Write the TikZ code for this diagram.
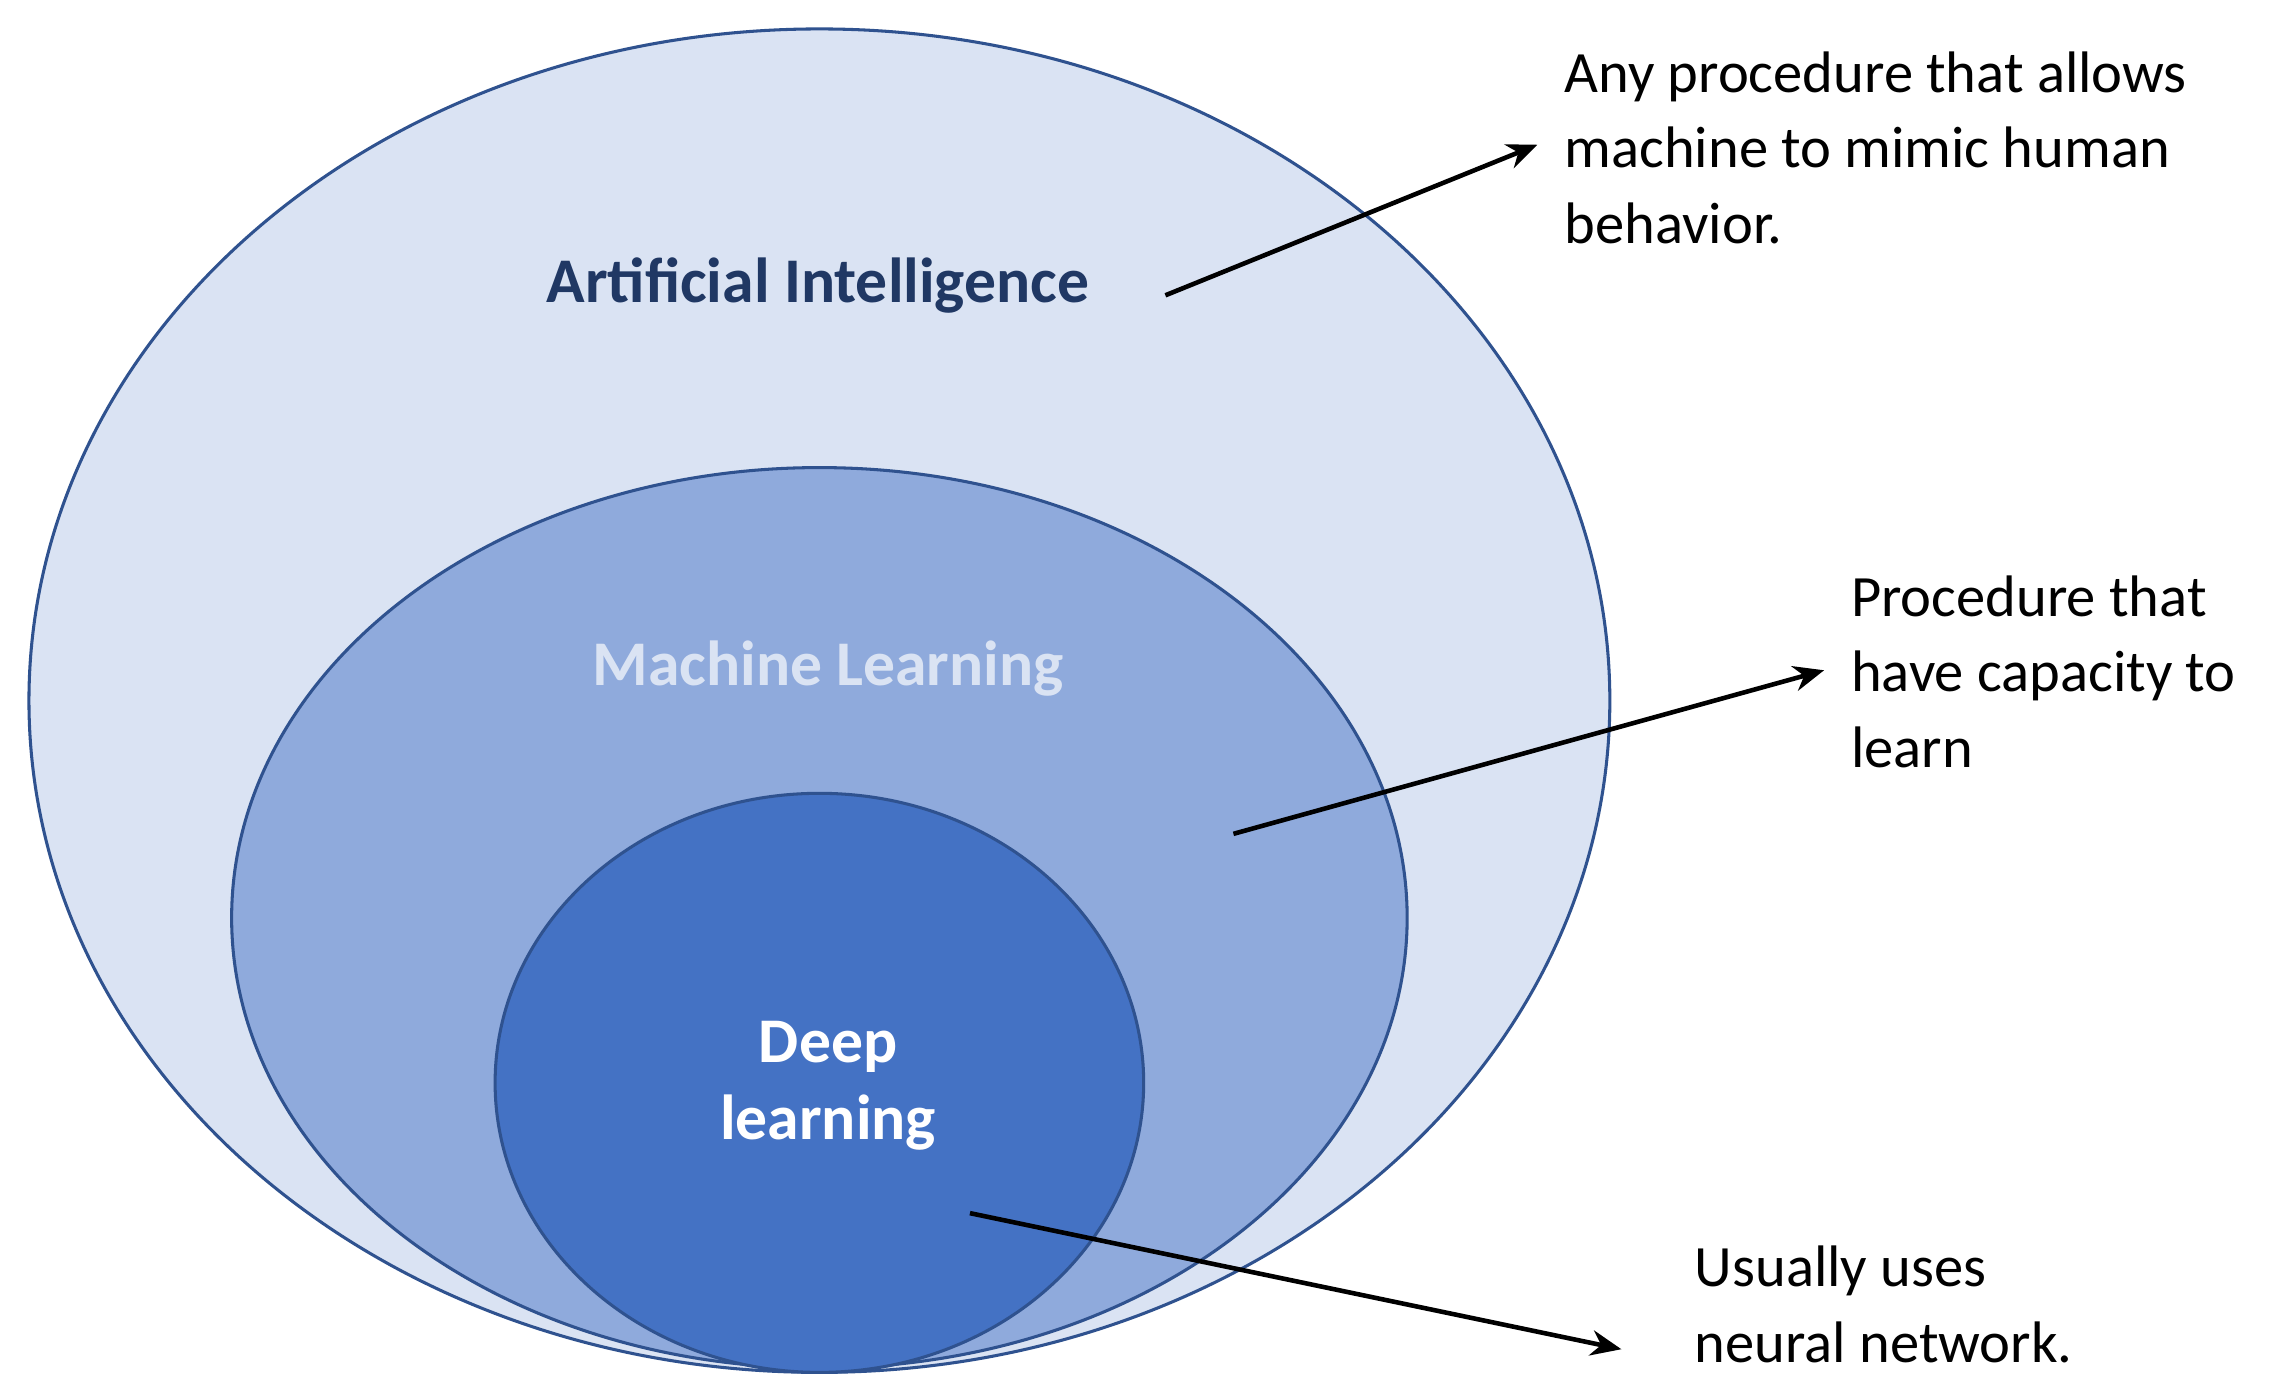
\documentclass[tikz,border=0pt]{standalone}
\usepackage{fontspec}
\setmainfont{Carlito}
\usetikzlibrary{arrows.meta}
\definecolor{aiF}{HTML}{DAE3F3}
\definecolor{mlF}{HTML}{8FAADC}
\definecolor{dlF}{HTML}{4472C4}
\definecolor{edge}{HTML}{2F528F}
\definecolor{aiT}{HTML}{203864}
\definecolor{mlT}{HTML}{DAE3F3}
\begin{document}
\begin{tikzpicture}[x=0.01cm,y=-0.01cm,
  ring/.style={draw=edge,line width=0.6pt},
  lab/.style={font=\fontsize{12.5}{15}\selectfont\bfseries,align=center},
  note/.style={font=\fontsize{11.5}{14.8}\selectfont,align=left,anchor=west,inner sep=0},
  arr/.style={-{Stealth[length=6pt,width=5pt]},line width=0.9pt}]
\useasboundingbox (0,0) rectangle (1568,962);
\fill[white] (0,0) rectangle (1568,962);
\draw[ring,fill=aiF] (566,484) ellipse [x radius=546,y radius=464];
\draw[ring,fill=mlF] (566,634) ellipse [x radius=406,y radius=311];
\draw[ring,fill=dlF] (566,748) ellipse [x radius=224,y radius=200];
\node[lab,text=aiT] (ai) at (565,197) {Artificial Intelligence};
\node[lab,text=mlT] (ml) at (572,462) {Machine Learning};
\node[lab,text=white] (dl) at (572,750) {Deep\\learning};
\node[note] (n1) at (1080,102) {Any procedure that allows\\machine to mimic human\\behavior.};
\node[note] (n2) at (1278,464) {Procedure that\\have capacity to\\learn};
\node[note] (n3) at (1170,901) {Usually uses\\neural network.};
\coordinate (s1) at (805,204); \coordinate (e1) at (1062,100);
\coordinate (s2) at (852,576); \coordinate (e2) at (1260,463);
\coordinate (s3) at (670,838); \coordinate (e3) at (1120,932);
\draw[arr] (s1) -- (e1);
\draw[arr] (s2) -- (e2);
\draw[arr] (s3) -- (e3);
\end{tikzpicture}
\end{document}
